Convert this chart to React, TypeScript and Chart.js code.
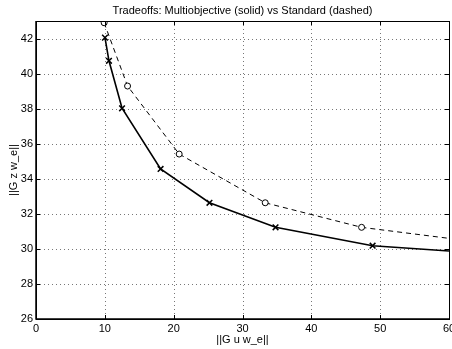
import React, { useEffect, useRef } from "react";
import { Chart, registerables } from "chart.js";

Chart.register(...registerables);

const titleText = "Tradeoffs: Multiobjective (solid) vs Standard (dashed)";
const xLabel = "||G u w_e||";
const yLabel = "||G z w_e||";

const multiX = [10.02, 10.6, 12.5, 18.1, 25.2, 34.8, 48.9, 60];
const multiY = [42.05, 40.73, 38.02, 34.56, 32.63, 31.23, 30.18, 29.88];
const multiMarker = [true, true, true, true, true, true, true, false];

const stdX = [9.9, 13.3, 20.8, 33.3, 47.3, 60];
const stdY = [42.9, 39.29, 35.41, 32.63, 31.23, 30.6];
const stdMarker = [true, true, true, true, true, false];

const xTicks = [0, 10, 20, 30, 40, 50, 60];
const yTicks = [26, 28, 30, 32, 34, 36, 38, 40, 42];

const FONT = "'Liberation Sans', Arial, Helvetica, sans-serif";
const FSIZE = 11;

const framePlugin = {
  id: "frame",
  beforeDatasetsDraw(chart: any) {
    const { ctx, chartArea } = chart;
    const { left, right, top, bottom } = chartArea;
    const xs = chart.scales.x;
    const ys = chart.scales.y;
    ctx.save();
    ctx.strokeStyle = "#777";
    ctx.lineWidth = 1;
    ctx.setLineDash([1, 3]);
    ctx.beginPath();
    xTicks.forEach((v) => {
      if (v === xTicks[0] || v === xTicks[xTicks.length - 1]) return;
      const px = Math.round(xs.getPixelForValue(v)) + 0.5;
      ctx.moveTo(px, top);
      ctx.lineTo(px, bottom);
    });
    yTicks.forEach((v) => {
      if (v === yTicks[0]) return;
      const py = Math.round(ys.getPixelForValue(v)) + 0.5;
      ctx.moveTo(left, py);
      ctx.lineTo(right, py);
    });
    ctx.stroke();
    ctx.restore();
  },
  afterDatasetsDraw(chart: any) {
    const { ctx, chartArea } = chart;
    const { left, right, top, bottom } = chartArea;
    const xs = chart.scales.x;
    const ys = chart.scales.y;
    ctx.save();
    ctx.strokeStyle = "#000";
    ctx.lineWidth = 1;
    ctx.setLineDash([]);
    ctx.beginPath();
    const L = 4;
    xTicks.forEach((v) => {
      const px = Math.round(xs.getPixelForValue(v)) + 0.5;
      ctx.moveTo(px, bottom);
      ctx.lineTo(px, bottom - L);
      ctx.moveTo(px, top);
      ctx.lineTo(px, top + L);
    });
    yTicks.forEach((v) => {
      const py = Math.round(ys.getPixelForValue(v)) + 0.5;
      ctx.moveTo(left, py);
      ctx.lineTo(left + L, py);
      ctx.moveTo(right, py);
      ctx.lineTo(right - L, py);
    });
    ctx.stroke();
    ctx.strokeRect(Math.round(left) + 0.5, Math.round(top) + 0.5, Math.round(right - left), Math.round(bottom - top));
    ctx.lineWidth = 1.5;
    ctx.beginPath();
    ctx.moveTo(left, top);
    ctx.lineTo(left, bottom);
    ctx.lineTo(right, bottom);
    ctx.stroke();

    // x tick labels
    ctx.fillStyle = "#000";
    ctx.font = `${FSIZE}px ${FONT}`;
    ctx.textAlign = "center";
    ctx.textBaseline = "middle";
    xTicks.forEach((v) => {
      ctx.fillText(String(v), xs.getPixelForValue(v), bottom + 9.5);
    });
    // title centred over plot area
    ctx.fillText(titleText, (left + right) / 2, 10.5);
    ctx.restore();
  },
};

export default function App() {
  const ref = useRef<HTMLCanvasElement | null>(null);
  useEffect(() => {
    if (!ref.current) return;
    const chart = new Chart(ref.current, {
      type: "line",
      data: {
        datasets: [
          {
            label: "Multiobjective",
            data: multiX.map((x, i) => ({ x, y: multiY[i] })),
            borderColor: "#000",
            borderWidth: 1.6,
            pointStyle: "crossRot",
            pointRadius: multiMarker.map((m) => (m ? 4 : 0)),
            pointBorderColor: "#000",
            pointBorderWidth: 1.5,
            pointBackgroundColor: "#000",
            fill: false,
            tension: 0,
          },
          {
            label: "Standard",
            data: stdX.map((x, i) => ({ x, y: stdY[i] })),
            borderColor: "#000",
            borderWidth: 1,
            borderDash: [5, 4],
            pointStyle: "circle",
            pointRadius: stdMarker.map((m) => (m ? 3 : 0)),
            pointBorderColor: "#000",
            pointBorderWidth: 1,
            pointBackgroundColor: "#fff",
            fill: false,
            tension: 0,
          },
        ],
      },
      options: {
        animation: false,
        responsive: false,
        maintainAspectRatio: false,
        layout: { autoPadding: false, padding: { right: 3, left: 0, top: 21, bottom: 0 } },
        plugins: {
          legend: { display: false },
          tooltip: { enabled: false },
          title: { display: false },
        },
        scales: {
          x: {
            type: "linear",
            min: 0,
            max: 60,
            afterBuildTicks: (s: any) => {
              s.ticks = xTicks.map((v) => ({ value: v }));
            },
            afterFit: (s: any) => {
              s.height = 30;
            },
            grid: { display: false, drawTicks: false },
            border: { display: false },
            ticks: { display: false },
            title: {
              display: true,
              text: xLabel,
              color: "#000",
              font: { family: FONT, size: FSIZE },
              padding: { top: 0, bottom: 2 },
            },
          },
          y: {
            type: "linear",
            min: 26,
            max: 43,
            afterBuildTicks: (s: any) => {
              s.ticks = yTicks.map((v) => ({ value: v }));
            },
            afterFit: (s: any) => {
              s.width = 36;
            },
            grid: { display: false, drawTicks: false },
            border: { display: false },
            ticks: {
              color: "#000",
              padding: 3,
              font: { family: FONT, size: FSIZE },
            },
            title: {
              display: true,
              text: yLabel,
              color: "#000",
              font: { family: FONT, size: FSIZE },
              padding: { top: 7, bottom: 0 },
            },
          },
        },
      },
      plugins: [framePlugin],
    } as any);
    return () => chart.destroy();
  }, []);
  return (
    <div style={{ position: "fixed", left: 0, top: 0, width: 452, height: 349, background: "#fff" }}>
      <canvas ref={ref} width={452} height={349} style={{ display: "block", width: 452, height: 349 }} />
    </div>
  );
}
